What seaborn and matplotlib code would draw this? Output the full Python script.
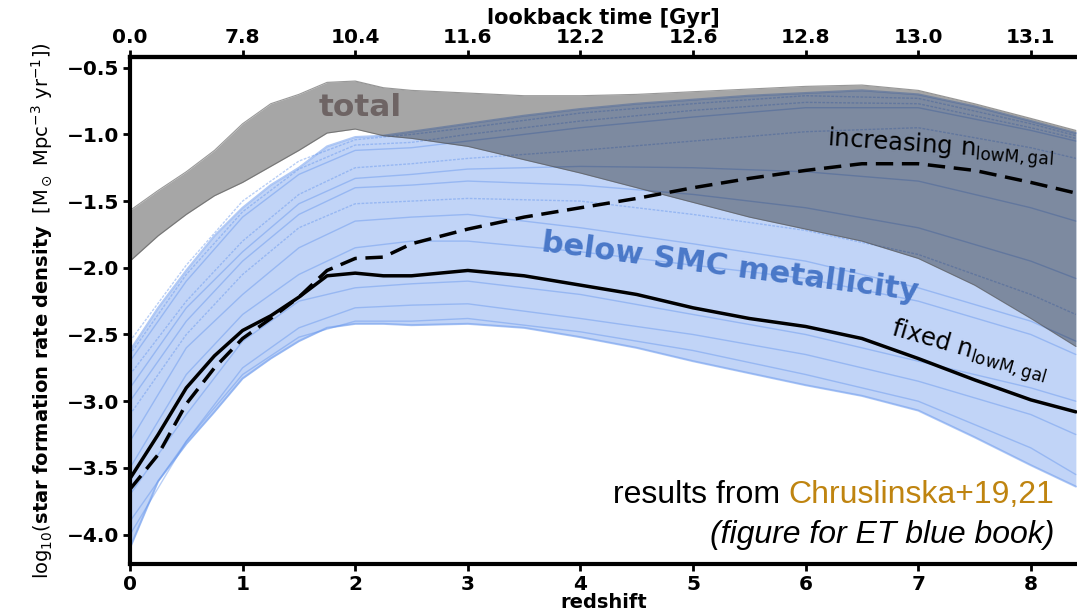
import numpy as np
import pandas as pd
import matplotlib
matplotlib.use("Agg")
import matplotlib.pyplot as plt
import seaborn as sns

# redshift grid used for the bands and the two black curves
z = [0, 0.25, 0.5, 0.75, 1.0, 1.25, 1.5, 1.75, 2.0, 2.25, 2.5, 3.0, 3.5,
     4.0, 4.5, 5.0, 5.5, 6.0, 6.5, 7.0, 7.5, 8.0, 8.4]

total_hi = [-1.57, -1.42, -1.28, -1.12, -0.92, -0.77, -0.70, -0.61, -0.60, -0.65, -0.67, -0.69, -0.71,
            -0.71, -0.70, -0.68, -0.66, -0.64, -0.63, -0.67, -0.77, -0.88, -0.97]
total_lo = [-1.95, -1.76, -1.60, -1.46, -1.36, -1.24, -1.12, -0.99, -0.96, -1.01, -1.03, -1.09, -1.19,
            -1.29, -1.40, -1.51, -1.62, -1.71, -1.80, -1.93, -2.13, -2.38, -2.59]
smc_hi = [-2.62, -2.30, -2.02, -1.76, -1.55, -1.38, -1.25, -1.09, -1.02, -1.01, -0.98, -0.92, -0.86,
          -0.81, -0.77, -0.74, -0.71, -0.69, -0.67, -0.70, -0.79, -0.90, -0.99]
smc_lo = [-4.10, -3.60, -3.32, -3.08, -2.83, -2.68, -2.55, -2.45, -2.42, -2.42, -2.43, -2.42, -2.45,
          -2.52, -2.60, -2.70, -2.79, -2.88, -2.96, -3.07, -3.27, -3.48, -3.64]
fixed_n = [-3.58, -3.25, -2.90, -2.66, -2.47, -2.36, -2.22, -2.06, -2.04, -2.06, -2.06, -2.02, -2.06,
           -2.13, -2.20, -2.30, -2.38, -2.44, -2.53, -2.68, -2.84, -2.99, -3.08]
increasing_n = [-3.66, -3.40, -3.02, -2.75, -2.53, -2.38, -2.22, -2.02, -1.93, -1.92, -1.82, -1.71, -1.62,
                -1.55, -1.48, -1.40, -1.33, -1.27, -1.22, -1.22, -1.27, -1.36, -1.44]

# individual model variations (thin blue lines)
z_thin = [0, 0.5, 1, 1.5, 2, 2.5, 3, 4, 5, 6, 7, 8, 8.4]
thin_lines = {
    "m1": [-2.55, -1.98, -1.50, -1.20, -1.04, -1.00, -0.95, -0.84, -0.77, -0.71, -0.73, -0.92, -1.01],
    "m2": [-2.70, -2.10, -1.62, -1.30, -1.12, -1.10, -1.05, -0.95, -0.87, -0.80, -0.80, -0.97, -1.05],
    "m3": [-2.80, -2.25, -1.80, -1.45, -1.25, -1.22, -1.18, -1.12, -1.05, -0.98, -0.95, -1.10, -1.18],
    "m4": [-3.00, -2.40, -1.95, -1.60, -1.40, -1.38, -1.35, -1.38, -1.45, -1.55, -1.70, -1.95, -2.08],
    "m5": [-3.10, -2.50, -2.05, -1.70, -1.52, -1.50, -1.48, -1.50, -1.60, -1.72, -1.90, -2.20, -2.35],
    "m6": [-3.30, -2.60, -2.20, -1.85, -1.65, -1.62, -1.60, -1.70, -1.82, -1.95, -2.15, -2.40, -2.55],
    "m7": [-3.50, -2.80, -2.35, -2.05, -1.85, -1.80, -1.80, -1.88, -1.98, -2.08, -2.25, -2.50, -2.65],
    "m8": [-3.70, -3.10, -2.55, -2.25, -2.15, -2.12, -2.10, -2.20, -2.35, -2.50, -2.70, -2.90, -3.00],
    "m9": [-3.90, -3.30, -2.75, -2.45, -2.30, -2.28, -2.27, -2.38, -2.50, -2.65, -2.85, -3.10, -3.25],
    "m10": [-4.00, -3.30, -2.80, -2.52, -2.40, -2.40, -2.38, -2.48, -2.62, -2.80, -3.00, -3.35, -3.55],
    "m11": [-2.65, -2.05, -1.58, -1.26, -1.08, -1.06, -1.00, -0.90, -0.82, -0.76, -0.77, -0.95, -1.03],
    "m12": [-2.90, -2.30, -1.88, -1.52, -1.33, -1.30, -1.26, -1.24, -1.25, -1.28, -1.35, -1.55, -1.65],
}
dotted_models = ["m1", "m3", "m5", "m11"]

z_ticks = [0, 1, 2, 3, 4, 5, 6, 7, 8]
lookback_labels = ["0.0", "7.8", "10.4", "11.6", "12.2", "12.6", "12.8", "13.0", "13.1"]
y_ticks = [-4.0, -3.5, -3.0, -2.5, -2.0, -1.5, -1.0, -0.5]

sns.set_style("ticks")
plt.rcParams["font.family"] = ["DejaVu Sans"]
plt.rcParams["mathtext.default"] = "regular"
plt.rcParams["mathtext.fontset"] = "dejavusans"
plt.rcParams["text.color"] = "black"
plt.rcParams["axes.labelcolor"] = "black"
plt.rcParams["xtick.color"] = "black"
plt.rcParams["ytick.color"] = "black"

fig = plt.figure(figsize=(10.77, 6.13), dpi=100)
ax = fig.add_axes([0.1207, 0.080, 0.8793, 0.827])

blue = "#6495ed"
ax.fill_between(z, smc_lo, smc_hi, color=blue, alpha=0.4, lw=0, zorder=1)
ax.plot(z, smc_lo, color=blue, lw=1.5, alpha=0.5, zorder=1.5)
ax.plot(z, smc_hi, color=blue, lw=1.5, alpha=0.5, zorder=1.5)
for name, vals in thin_lines.items():
    ls = (0, (2, 1)) if name in dotted_models else "-"
    ax.plot(z_thin, vals, color=blue, lw=1.0, alpha=0.45, ls=ls, zorder=1.5)

ax.fill_between(z, total_lo, total_hi, color="black", alpha=0.35, lw=0, zorder=2)
ax.plot(z, total_lo, color="#555555", lw=0.8, alpha=0.6, zorder=2)
ax.plot(z, total_hi, color="#555555", lw=0.8, alpha=0.6, zorder=2)

df = pd.DataFrame({"z": z, "fixed": fixed_n, "increasing": increasing_n})
sns.lineplot(data=df, x="z", y="fixed", color="black", lw=2.5, ax=ax, zorder=4)
sns.lineplot(data=df, x="z", y="increasing", color="black", lw=2.5, ax=ax, zorder=4,
             dashes=False, linestyle=(0, (5, 2.5)))

ax.set_xlim(0, 8.41)
ax.set_ylim(-4.22, -0.42)
ax.set_xticks(z_ticks)
ax.set_xticklabels([str(t) for t in z_ticks])
ax.set_yticks(y_ticks)
ax.set_yticklabels([f"{t:.1f}".replace("-", "\u2212") for t in y_ticks])
for lab in ax.get_xticklabels() + ax.get_yticklabels():
    lab.set_fontweight("bold")
    lab.set_fontsize(14.5)
ax.tick_params(direction="out", length=5, width=2, pad=3)

for side in ["left", "bottom", "top"]:
    ax.spines[side].set_linewidth(3)
    ax.spines[side].set_color("black")
ax.spines["right"].set_visible(False)

ax.set_xlabel("redshift", fontsize=14, fontweight="bold", labelpad=-1)
ax.set_ylabel(r"log$_{10}$($\mathbf{star\ formation\ rate\ density}$  [M$_\odot$ Mpc$^{-3}$ yr$^{-1}$])",
              fontsize=14, labelpad=8)

top = ax.secondary_xaxis("top")
top.set_xticks(z_ticks)
top.set_xticklabels(lookback_labels, fontsize=14.5, fontweight="bold")
top.tick_params(direction="out", length=5, width=2, pad=2)
top.set_xlabel("lookback time [Gyr]", fontsize=15, fontweight="bold", labelpad=3)
top.spines["top"].set_linewidth(3)

ax.text(2.04, -0.8, "total", fontsize=22.5, fontweight="bold", color="#6e6464",
        ha="center", va="center", zorder=5)
ax.text(5.33, -2.0, "below SMC metallicity", fontsize=22, fontweight="bold", color="#4a78c8",
        ha="center", va="center", rotation=-7.5, zorder=5)
ax.text(7.2, -1.1, r"increasing n$_{lowM,gal}$", fontsize=17.5, color="black",
        ha="center", va="center", rotation=-4, zorder=5)
ax.text(7.45, -2.63, r"fixed n$_{lowM,gal}$", fontsize=17.5, color="black",
        ha="center", va="center", rotation=-16, zorder=5)

t1 = ax.text(8.21, -3.7, "Chruslinska+19,21", fontsize=23, color="#bf8410",
             family="Liberation Sans", ha="right", va="center", zorder=5)
fig.canvas.draw()
bb = t1.get_window_extent()
x_left = ax.transData.inverted().transform((bb.x0, bb.y0))[0]
ax.text(x_left, -3.7, "results from ", fontsize=23, color="black",
        family="Liberation Sans", ha="right", va="center", zorder=5)
ax.text(8.21, -4.0, "(figure for ET blue book)", fontsize=23, color="black",
        family="Liberation Sans", style="italic", ha="right", va="center", zorder=5)

fig.savefig("out.png", dpi=100)
